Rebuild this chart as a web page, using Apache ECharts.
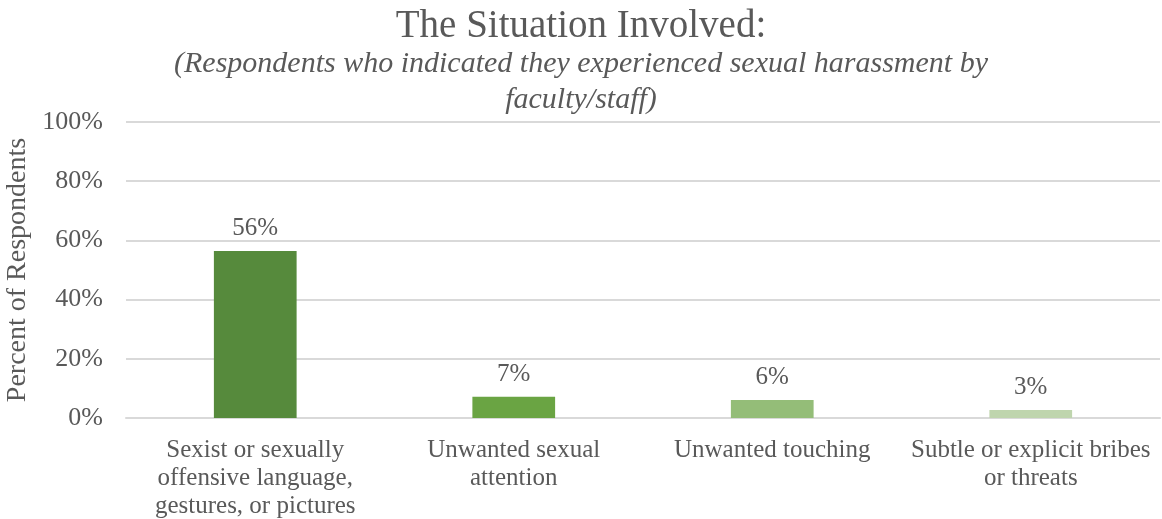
<!DOCTYPE html>
<html>
<head>
<meta charset="utf-8">
<script src="https://cdn.jsdelivr.net/npm/echarts@6/dist/echarts.min.js"></script>
<style>html,body{margin:0;padding:0;background:#fff;}#c{width:1162px;height:519px;}</style>
</head>
<body>
<div id="c"></div>
<script>
const categories = [
  "Sexist or sexually\noffensive language,\ngestures, or pictures",
  "Unwanted sexual\nattention",
  "Unwanted touching",
  "Subtle or explicit bribes\nor threats"
];
const values = [56.4, 7.2, 6.1, 2.7];
const barColors = ["#568a3c", "#6aa443", "#94bd78", "#bfd5ae"];
const yTicks = [0, 20, 40, 60, 80, 100];
const titleText = "The Situation Involved:";
const subtitleLines = ["(Respondents who indicated they experienced sexual harassment by", "faculty/staff)"];

const FONT = "'Liberation Serif', serif";
const subStyle = {fontFamily: FONT, fontSize: 30, fontStyle: 'italic', fontWeight: 'normal', color: '#595959'};
const chart = echarts.init(document.getElementById('c'), null, {renderer: 'canvas'});
chart.setOption({
  animation: false,
  title: [
    {text: titleText, left: 'center', top: 2,
     textStyle: {fontFamily: FONT, fontSize: 39, fontWeight: 'normal', color: '#595959'}},
    {text: subtitleLines[0], left: 'center', top: 44, textStyle: subStyle},
    {text: subtitleLines[1], left: 'center', top: 80, textStyle: subStyle}
  ],
  grid: {left: 126, right: 2, top: 122, bottom: 101, containLabel: false, outerBoundsMode: 'none'},
  xAxis: {
    type: 'category', data: categories,
    axisLine: {lineStyle: {color: '#d9d9d9', width: 2}},
    axisTick: {show: false},
    axisLabel: {interval: 0, margin: 18, fontFamily: FONT, fontSize: 25, color: '#595959', lineHeight: 28}
  },
  yAxis: {
    type: 'value', min: 0, max: 100, interval: 20,
    name: "Percent of Respondents", nameLocation: 'middle', nameGap: 88, nameRotate: 90,
    nameTextStyle: {fontFamily: FONT, fontSize: 28, color: '#595959'},
    axisLine: {show: false}, axisTick: {show: false},
    splitLine: {lineStyle: {color: '#d9d9d9', width: 2}},
    axisLabel: {margin: 23, fontFamily: FONT, fontSize: 26, color: '#595959',
      formatter: v => yTicks.includes(v) ? v + '%' : ''}
  },
  series: [{
    type: 'bar', barWidth: '32%',
    data: values.map((v, i) => ({value: v, itemStyle: {color: barColors[i]}})),
    label: {show: true, position: 'top', distance: 10, fontFamily: FONT, fontSize: 25, color: '#595959',
      formatter: p => Math.round(p.value) + '%'}
  }]
});
</script>
</body>
</html>
